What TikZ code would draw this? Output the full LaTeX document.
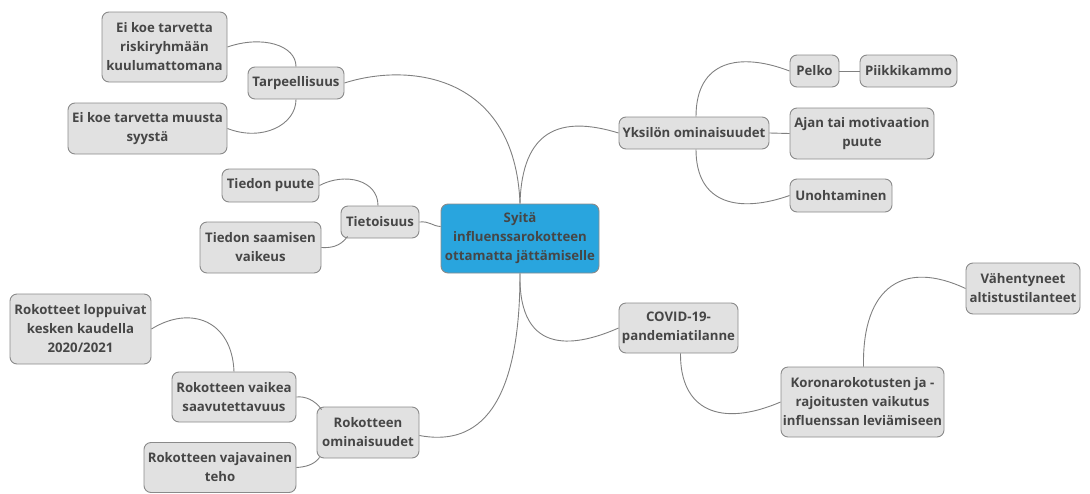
\documentclass[tikz,border=0pt]{standalone}
\usepackage{fontspec}
\setmainfont{Open Sans}
\usetikzlibrary{calc}
\definecolor{boxfill}{HTML}{E1E1E1}
\definecolor{boxdraw}{HTML}{8A8A8A}
\definecolor{txt}{HTML}{464646}
\definecolor{cenfill}{HTML}{29A5DE}
\definecolor{linec}{HTML}{808080}
\tikzset{
  topic/.style={draw=boxdraw, fill=boxfill, line width=0.9pt, rounded corners=7pt,
    align=center, inner sep=0pt, text=txt, font=\bfseries\fontsize{13.2}{19}\selectfont},
  central/.style={topic, fill=cenfill, draw=boxdraw},
  conn/.style={draw=linec, line width=0.9pt}
}
\begin{document}
\begin{tikzpicture}[x=1pt,y=-1pt]
\useasboundingbox (0,0) rectangle (1090,493);
\node[central, minimum width=158, minimum height=69] (cen) at (520,238.5) {Syitä\\influenssarokotteen\\ottamatta jättämiselle};
\node[topic, minimum width=96, minimum height=32] (tarp) at (296,83) {Tarpeellisuus};
\node[topic, minimum width=125, minimum height=70] (riski) at (164.5,47) {Ei koe tarvetta\\riskiryhmään\\kuulumattomana};
\node[topic, minimum width=159, minimum height=51] (muusta) at (147.5,128.5) {Ei koe tarvetta muusta\\syystä};
\node[topic, minimum width=78, minimum height=32] (tieto) at (380,222) {Tietoisuus};
\node[topic, minimum width=97, minimum height=33] (puute) at (270.5,185.5) {Tiedon puute};
\node[topic, minimum width=121, minimum height=51] (saam) at (260.5,247.5) {Tiedon saamisen\\vaikeus};
\node[topic, minimum width=141, minimum height=70] (loppu) at (80.5,329) {Rokotteet loppuivat\\kesken kaudella\\2020/2021};
\node[topic, minimum width=124, minimum height=50] (vaikea) at (234,397) {Rokotteen vaikea\\saavutettavuus};
\node[topic, minimum width=102, minimum height=51] (rokom) at (368,432.5) {Rokotteen\\ominaisuudet};
\node[topic, minimum width=152, minimum height=50] (vaja) at (220,467.5) {Rokotteen vajavainen\\teho};
\node[topic, minimum width=150, minimum height=32] (yks) at (694,133) {Yksilön ominaisuudet};
\node[topic, minimum width=49, minimum height=32] (pelko) at (814.5,71) {Pelko};
\node[topic, minimum width=97, minimum height=32] (piikki) at (908.5,71) {Piikkikammo};
\node[topic, minimum width=144, minimum height=51] (ajan) at (862,133.5) {Ajan tai motivaation\\puute};
\node[topic, minimum width=102, minimum height=33] (unoh) at (841,195.5) {Unohtaminen};
\node[topic, minimum width=119, minimum height=50] (covid) at (678.5,328) {COVID-19-\\pandemiatilanne};
\node[topic, minimum width=163, minimum height=70] (korona) at (862.5,402) {Koronarokotusten ja -\\rajoitusten vaikutus\\influenssan leviämiseen};
\node[topic, minimum width=114, minimum height=51] (vahen) at (1023,288.5) {Vähentyneet\\altistustilanteet};

\draw[conn] (tarp.east) .. controls (410,62) and (515,75) .. (cen.north);
\draw[conn] (cen.north) .. controls (522,130) and (560,115) .. (yks.west);
\draw[conn] (tieto.east) .. controls (430,221) and (432,226) .. ($(cen.west)+(0,-12)$);
\draw[conn] (cen.south) .. controls (518,360) and (580,345) .. (covid.west);
\draw[conn] (cen.south) .. controls (520,420) and (470,445) .. ($(rokom.east)+(0,3)$);
\draw[conn] (tarp.north) .. controls (296,45) and (262,35) .. (riski.east);
\draw[conn] (tarp.south) .. controls (296,125) and (262,142) .. (muusta.east);
\draw[conn] ($(tieto.north)+(-2,0)$) .. controls (378,180) and (345,172) .. (puute.east);
\draw[conn] ($(tieto.south west)+(7,-2)$) .. controls (340,247) and (330,248) .. (saam.east);
\draw[conn] ($(rokom.north west)+(5,3)$) .. controls (315,400) and (305,396) .. (vaikea.east);
\draw[conn] ($(rokom.south west)+(3,-1)$) .. controls (314,465) and (305,467) .. (vaja.east);
\draw[conn] (vaikea.north) .. controls (232,320) and (190,305) .. (loppu.east);
\draw[conn] ($(yks.north)+(2,0)$) .. controls (696,60) and (740,52) .. (pelko.west);
\draw[conn] (yks.east) -- (ajan.west);
\draw[conn] ($(yks.south)+(2,0)$) .. controls (696,205) and (740,213) .. (unoh.west);
\draw[conn] (pelko.east) -- (piikki.west);
\draw[conn] ($(covid.south)+(2,0)$) .. controls (680,410) and (720,428) .. (korona.west);
\draw[conn] ($(korona.north)+(1,0)$) .. controls (862,285) and (905,260) .. (vahen.west);
\end{tikzpicture}
\end{document}
